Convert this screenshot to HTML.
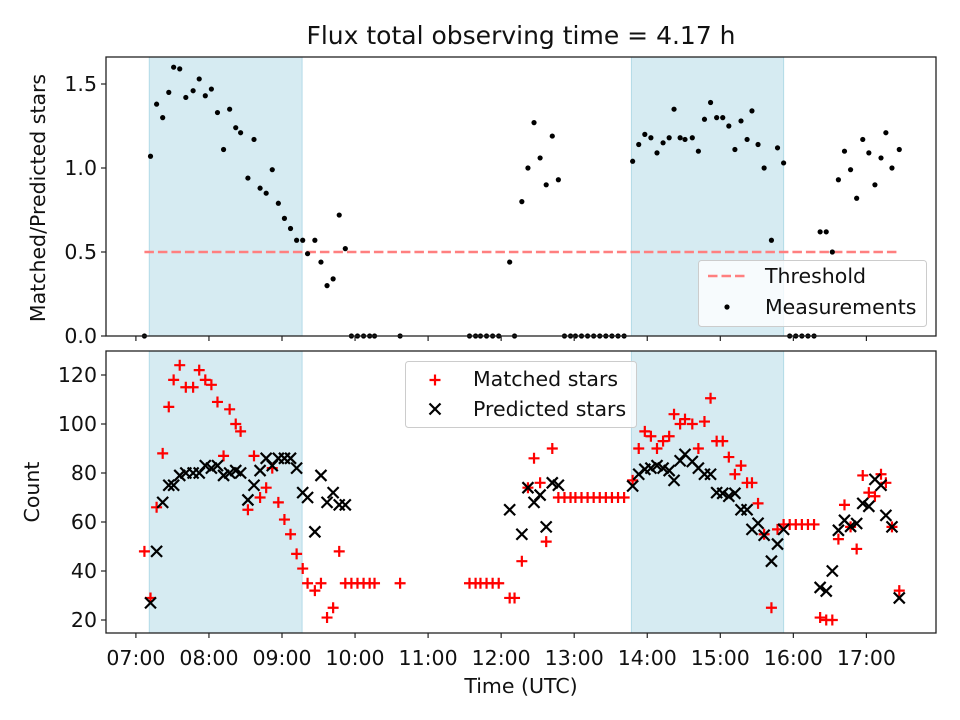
<!DOCTYPE html>
<html><head><meta charset="utf-8"><style>
html,body{margin:0;padding:0;background:#fff;}
svg{display:block;font-family:"DejaVu Sans","Liberation Sans",sans-serif;}
</style></head><body>
<svg id="chart" width="960" height="720" viewBox="0 0 960 720" xmlns="http://www.w3.org/2000/svg"></svg>
<script>
// times in minutes since 00:00 UTC
const times = [427,432,437,442,447,451,456,461,467,472,477,482,487,492,497,502,506,512,517,522,527,532,537,542,547,552,557,561,567,572,577,582,587,592,597,602,607,612,616,637,
694,699,703,708,713,718,727,731,737,742,747,752,757,762,767,772,777,781,786,791,796,801,806,811,816,821,
828,833,838,843,848,853,858,862,867,871,877,882,887,892,897,902,907,912,917,922,926,931,936,942,947,952,957,962,967,972,977,982,987,992,997,1002,1007,1012,1017,1022,1027,1032,1036,1041,1047];
const matched = [48,29,66,88,107,118,124,115,115,122,118,116,109,87,106,100,97,65,87,70,74,82,68,61,55,47,41,35,32,35,21,25,48,35,35,35,35,35,35,35,
35,35,35,35,35,35,29,29,44,74,86,76,52,90,70,70,70,70,70,70,70,70,70,70,70,70,
77,90,97,95,90,93,95,104,100,102,100,90,101,110.5,93,93,86.5,79.5,83,76,76,67.6,55,25,57,59,59,59,59,59,59,21,20,20,53,67,58,49,79,72,70.5,79.5,76,58,32];
const predicted = [null,27,48,68,75,75,79,80,80,80,83,82,83,79,80,81,80,69,75,81,86,83,86,86,86,82,72,70,56,79,68,72,67,67,null,null,null,null,null,null,
null,null,null,null,null,null,65,null,55,74,68,71,58,76,75,null,null,null,null,null,null,null,null,null,null,null,
74.7,79.5,81.5,82,83,82,81,77,85,87.6,84.7,82,79.5,79.5,72,71.7,70.5,71.7,65,65,57,59.5,54.6,44,51,57,null,null,null,null,null,33.3,31.8,40,56.6,60.7,58.2,59.4,67.6,66.4,77.4,75,62.7,58,29];
const ratio = [0,1.07,1.38,1.30,1.45,1.60,1.59,1.42,1.46,1.53,1.43,1.47,1.33,1.11,1.35,1.24,1.21,0.94,1.17,0.88,0.85,0.99,0.79,0.70,0.64,0.57,0.57,0.49,0.57,0.44,0.30,0.34,0.72,0.52,0,0,0,0,0,0,
0,0,0,0,0,0,0.44,0,0.80,1.00,1.27,1.06,0.90,1.19,0.93,0,0,0,0,0,0,0,0,0,0,0,
1.04,1.14,1.20,1.18,1.09,1.15,1.18,1.35,1.18,1.17,1.18,1.10,1.29,1.39,1.30,1.30,1.25,1.11,1.28,1.17,1.34,1.14,1.00,0.57,1.12,1.03,0,0,0,0,0,0.62,0.62,0.50,0.93,1.10,0.99,0.82,1.17,1.09,0.90,1.06,1.21,1.00,1.11];
const spanStarts = [431,827];
const spanEnds = [556.5,952];
const threshold = [0.5];
const xTickLabels = ["07:00","08:00","09:00","10:00","11:00","12:00","13:00","14:00","15:00","16:00","17:00"];
const xTickValues = [420,480,540,600,660,720,780,840,900,960,1020];
const topYTicks = [0,0.5,1.0,1.5];
const topYLabels = ["0.0","0.5","1.0","1.5"];
const botYTicks = [20,40,60,80,100,120];

const NS="http://www.w3.org/2000/svg";
const svg=document.getElementById('chart');
function el(tag,attrs,parent){const e=document.createElementNS(NS,tag);for(const k in attrs)e.setAttribute(k,attrs[k]);(parent||svg).appendChild(e);return e;}
const L=106,R=936;
const PXH=73.05, X0=135.9;
const xMin=420+(L-X0)*60/PXH, xMax=420+(R-X0)*60/PXH;
const X=t=>L+(t-xMin)/(xMax-xMin)*(R-L);
const T={top:57,bot:336,min:0,max:(336-57)/168};
const B={top:351,bot:633,min:20-13/2.45,max:20+269/2.45};
const YT=v=>T.bot-(v-T.min)/(T.max-T.min)*(T.bot-T.top);
const YB=v=>B.bot-(v-B.min)/(B.max-B.min)*(B.bot-B.top);
const FS=20.5;

function panel(P,name){
  const g=el('g',{});
  
  
  for(let i=0;i<spanStarts.length;i++){
    const r=el('rect',{x:X(spanStarts[i]),y:P.top,width:X(spanEnds[i])-X(spanStarts[i]),height:P.bot-P.top,fill:'rgba(173,216,230,0.5)',stroke:'rgba(173,216,230,0.9)','stroke-width':1},g);
    
    
  }
  return g;
}
function frame(P,name){
  const f=el('rect',{x:L,y:P.top,width:R-L,height:P.bot-P.top,fill:'none',stroke:'#222','stroke-width':1.3});
  
  
  for(let i=0;i<xTickValues.length;i++){
    el('line',{x1:X(xTickValues[i]),x2:X(xTickValues[i]),y1:P.bot,y2:P.bot+5,stroke:'#222','stroke-width':1.2});
  }
}
// title
const title=el('text',{x:521,y:44,'text-anchor':'middle','font-size':25,fill:'#111'});
title.textContent='Flux total observing time = 4.17 h';



// TOP PANEL
const gt=panel(T,'ratio-panel');
const th=el('line',{x1:X(times[0]),x2:X(times[times.length-1]),y1:YT(threshold[0]),y2:YT(threshold[0]),stroke:'#ff7f7f','stroke-width':2.5,'stroke-dasharray':'9.5,4'},gt);


for(let i=0;i<times.length;i++){
  const c=el('circle',{cx:X(times[i]),cy:YT(ratio[i]),r:2.6,fill:'#000'},gt);
  
  
}
frame(T,'ratio-axes');
for(let i=0;i<topYTicks.length;i++){
  const y=YT(topYTicks[i]);
  el('line',{x1:L-5,x2:L,y1:y,y2:y,stroke:'#222','stroke-width':1.2});
  const t=el('text',{x:L-9,y:y+7,'text-anchor':'end','font-size':FS,fill:'#111'});
  t.textContent=topYLabels[i];
  
  
}
const yl1=el('text',{x:0,y:0,transform:'translate(45,198) rotate(-90)','text-anchor':'middle','font-size':FS,fill:'#111'});
yl1.textContent='Matched/Predicted stars';


// top legend
const lg1=el('g',{});


el('rect',{x:698.5,y:260.5,width:228,height:66,rx:3,fill:'rgba(255,255,255,0.8)',stroke:'#ccc','stroke-width':1},lg1);
el('line',{x1:708,x2:748,y1:276,y2:276,stroke:'#ff7f7f','stroke-width':2.5,'stroke-dasharray':'9.5,4'},lg1);
let t1=el('text',{x:765,y:283,'font-size':FS,fill:'#111'},lg1);t1.textContent='Threshold';


el('circle',{cx:727,cy:307,r:2.6,fill:'#000'},lg1);
let t2=el('text',{x:765,y:314,'font-size':FS,fill:'#111'},lg1);t2.textContent='Measurements';



// BOTTOM PANEL
const gb=panel(B,'count-panel');
for(let i=0;i<times.length;i++){
  const x=X(times[i]),y=YB(matched[i]);
  const p=el('path',{d:`M${x-5.5},${y}H${x+5.5}M${x},${y-5.5}V${y+5.5}`,stroke:'#ff0000','stroke-width':2.2,fill:'none'},gb);
  
  
}
for(let i=0;i<times.length;i++){
  if(predicted[i]===null)continue;
  const x=X(times[i]),y=YB(predicted[i]);
  const p=el('path',{d:`M${x-5.5},${y-5.5}L${x+5.5},${y+5.5}M${x-5.5},${y+5.5}L${x+5.5},${y-5.5}`,stroke:'#000','stroke-width':2.2,fill:'none'},gb);
  
  
}
frame(B,'count-axes');
for(let i=0;i<botYTicks.length;i++){
  const y=YB(botYTicks[i]);
  el('line',{x1:L-5,x2:L,y1:y,y2:y,stroke:'#222','stroke-width':1.2});
  const t=el('text',{x:L-9,y:y+7,'text-anchor':'end','font-size':FS,fill:'#111'});
  t.textContent=String(botYTicks[i]);
  
  
}
for(let i=0;i<xTickValues.length;i++){
  const t=el('text',{x:X(xTickValues[i]),y:665,'text-anchor':'middle','font-size':FS,fill:'#111'});
  t.textContent=xTickLabels[i];
  
  
}
const yl2=el('text',{x:0,y:0,transform:'translate(39,492) rotate(-90)','text-anchor':'middle','font-size':FS,fill:'#111'});
yl2.textContent='Count';


const xl=el('text',{x:521,y:693,'text-anchor':'middle','font-size':FS,fill:'#111'});
xl.textContent='Time (UTC)';


// bottom legend
const lg2=el('g',{});


el('rect',{x:405.5,y:361.5,width:231,height:66,rx:3,fill:'rgba(255,255,255,0.8)',stroke:'#ccc','stroke-width':1},lg2);
el('path',{d:'M429.5,380H440.5M435,374.5V385.5',stroke:'#ff0000','stroke-width':2.2},lg2);
let t3=el('text',{x:473,y:386,'font-size':FS,fill:'#111'},lg2);t3.textContent='Matched stars';


el('path',{d:'M429.5,403.5L440.5,414.5M429.5,414.5L440.5,403.5',stroke:'#000','stroke-width':2.2},lg2);
let t4=el('text',{x:473,y:416,'font-size':FS,fill:'#111'},lg2);t4.textContent='Predicted stars';


</script>
</body></html>
